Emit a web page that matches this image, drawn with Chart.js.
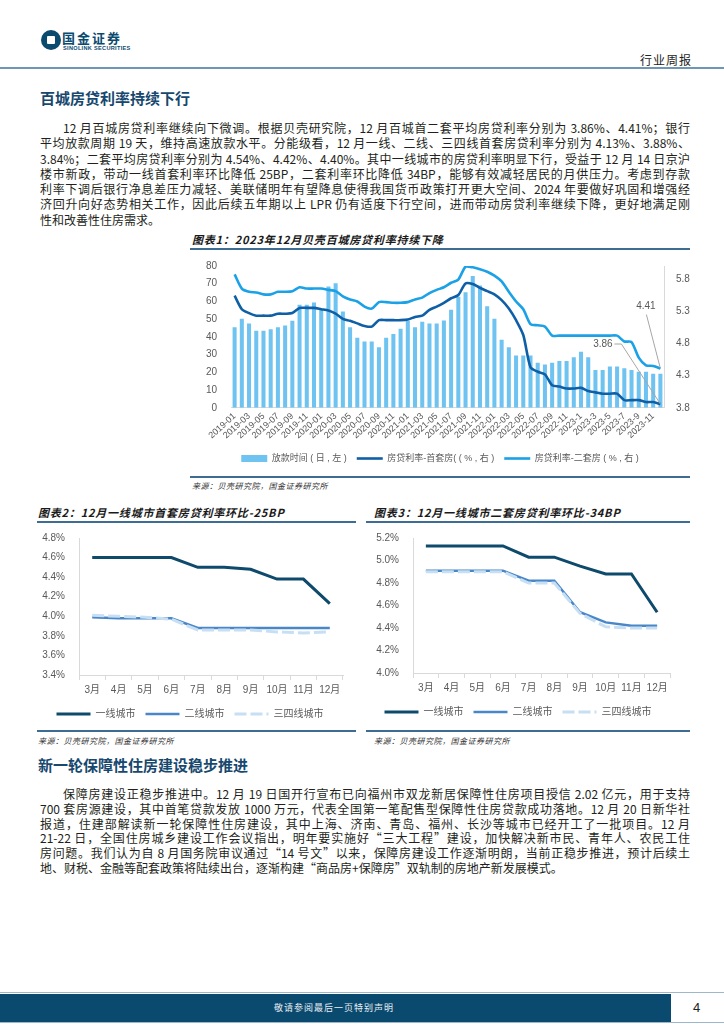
<!DOCTYPE html>
<html lang="zh-CN">
<head>
<meta charset="utf-8">
<title>行业周报</title>
<script src="https://cdn.jsdelivr.net/npm/chart.js@4.4.1/dist/chart.umd.min.js"></script>
<style>
body { margin: 0; background: #fff; }
#page { position: relative; width: 724px; height: 1024px; overflow: hidden; font-family: "Noto Sans CJK SC", sans-serif; color: #231f20; }
.abs { position: absolute; }
.rule { position: absolute; height: 2px; background: #3d6d92; }
.sec { position: absolute; font-size: 15px; font-weight: bold; color: #17486e; line-height: 20px; }
.para { position: absolute; left: 40px; width: 650px; font-size: 12px; }
.para div { text-align: justify; text-align-last: justify; white-space: nowrap; }
.para div.last { text-align-last: left; }
.ctitle { position: absolute; font-size: 11px; font-weight: bold; font-style: italic; letter-spacing: 0.8px; line-height: 14px; color: #1a1a1a; }
.src { position: absolute; font-size: 8px; font-style: italic; line-height: 12px; color: #333; letter-spacing: 0.5px; }
canvas { position: absolute; }
</style>
</head>
<body>
<div id="page">
  <!-- header -->
  <div class="abs" style="left:41px;top:30px;width:20px;height:20px;border-radius:50%;background:#0b4a6f"></div>
  <div class="abs" style="left:47px;top:36px;width:8px;height:8px;background:#fff;border-radius:1px"></div>
  <div class="abs" style="left:62px;top:30px;font-size:13px;font-weight:bold;color:#0b4a6f;letter-spacing:2px;line-height:15px">国金证券</div>
  <div class="abs" style="left:63px;top:45px;font-family:'Liberation Sans';font-size:5.6px;font-weight:bold;color:#0b4a6f;line-height:6px;letter-spacing:0.3px">SINOLINK SECURITIES</div>
  <div class="abs" style="left:640px;top:53px;font-size:12px;letter-spacing:1px;line-height:14px;color:#222">行业周报</div>
  <div class="abs" style="left:0;top:67px;width:724px;height:2px;background:#6f96b6"></div>

  <div class="sec" style="left:40px;top:88px">百城房贷利率持续下行</div>
  <div class="para" style="top:120px;line-height:15.3px">
    <div style="padding-left:23px">12 月百城房贷利率继续向下微调。根据贝壳研究院，12 月百城首二套平均房贷利率分别为 3.86%、4.41%；银行</div>
    <div>平均放款周期 19 天，维持高速放款水平。分能级看，12 月一线、二线、三四线首套房贷利率分别为 4.13%、3.88%、</div>
    <div>3.84%；二套平均房贷利率分别为 4.54%、4.42%、4.40%。其中一线城市的房贷利率明显下行，受益于 12 月 14 日京沪</div>
    <div>楼市新政，带动一线首套利率环比降低 25BP，二套利率环比降低 34BP，能够有效减轻居民的月供压力。考虑到存款</div>
    <div>利率下调后银行净息差压力减轻、美联储明年有望降息使得我国货币政策打开更大空间、2024 年要做好巩固和增强经</div>
    <div>济回升向好态势相关工作，因此后续五年期以上 LPR 仍有适度下行空间，进而带动房贷利率继续下降，更好地满足刚</div>
    <div class="last">性和改善性住房需求。</div>
  </div>

  <!-- chart 1 -->
  <div class="ctitle" style="left:192px;top:232px">图表1：2023年12月贝壳百城房贷利率持续下降</div>
  <div class="rule" style="left:190px;top:248px;width:500px"></div>
  <canvas id="chart1" width="500" height="219" style="left:190px;top:254px"></canvas>
  <div class="rule" style="left:190px;top:476px;width:500px;height:1.5px"></div>
  <div class="src" style="left:192px;top:480px">来源：贝壳研究院，国金证券研究所</div>

  <!-- chart 2 / 3 -->
  <div class="ctitle" style="left:38px;top:505px">图表2：12月一线城市首套房贷利率环比-25BP</div>
  <div class="rule" style="left:37px;top:521px;width:319px"></div>
  <canvas id="chart2" width="318" height="203" style="left:37px;top:526px"></canvas>
  <div class="rule" style="left:37px;top:730px;width:319px;height:1.5px"></div>
  <div class="src" style="left:38px;top:735px">来源：贝壳研究院，国金证券研究所</div>

  <div class="ctitle" style="left:374px;top:505px">图表3：12月一线城市二套房贷利率环比-34BP</div>
  <div class="rule" style="left:366px;top:521px;width:324px"></div>
  <canvas id="chart3" width="324" height="201" style="left:366px;top:526px"></canvas>
  <div class="rule" style="left:366px;top:730px;width:324px;height:1.5px"></div>
  <div class="src" style="left:374px;top:735px">来源：贝壳研究院，国金证券研究所</div>

  <div class="sec" style="left:38px;top:755px">新一轮保障性住房建设稳步推进</div>
  <div class="para" style="top:787px;line-height:14.8px">
    <div style="padding-left:23px">保障房建设正稳步推进中。12 月 19 日国开行宣布已向福州市双龙新居保障性住房项目授信 2.02 亿元，用于支持</div>
    <div>700 套房源建设，其中首笔贷款发放 1000 万元，代表全国第一笔配售型保障性住房贷款成功落地。12 月 20 日新华社</div>
    <div>报道，住建部解读新一轮保障性住房建设，其中上海、济南、青岛、福州、长沙等城市已经开工了一批项目。12 月</div>
    <div>21-22 日，全国住房城乡建设工作会议指出，明年要实施好“三大工程”建设，加快解决新市民、青年人、农民工住</div>
    <div>房问题。我们认为自 8 月国务院审议通过“14 号文”以来，保障房建设工作逐渐明朗，当前正稳步推进，预计后续土</div>
    <div class="last">地、财税、金融等配套政策将陆续出台，逐渐构建“商品房+保障房”双轨制的房地产新发展模式。</div>
  </div>

  <!-- footer -->
  <div class="abs" style="left:0;top:992px;width:724px;height:1px;background:#9db7cb"></div>
  <div class="abs" style="left:0;top:994px;width:671px;height:28px;background:#0b4a6f"></div>
  <div class="abs" style="left:0;top:1022px;width:724px;height:1px;background:#9db7cb"></div>
  <div class="abs" style="left:234px;top:1001px;width:200px;text-align:center;font-size:9px;letter-spacing:1px;color:#e6edf2;line-height:14px">敬请参阅最后一页特别声明</div>
  <div class="abs" style="left:693px;top:1000px;font-family:'Liberation Sans';font-size:13px;color:#222;line-height:16px">4</div>
</div>

<script>
Chart.defaults.font.family = '"Liberation Sans", "Noto Sans CJK SC", sans-serif';
Chart.defaults.color = '#595959';

// chart 1: 2019-01 .. 2023-12
var years = [2019, 2020, 2021, 2022, 2023];
var monthLabels = [];
for (var yi = 0; yi < years.length; yi++) {
    for (var m = 1; m <= 12; m++) {
        var mm = years[yi] === 2023 ? String(m) : (m < 10 ? '0' + m : String(m));
        monthLabels.push(years[yi] + '-' + mm);
    }
}

var loanDays = [
    45.5, 50.3, 47.6, 43.5, 43.5, 44.4, 45.5, 46.5, 49.1, 58.2, 58.2, 59.4,
    55.3, 68.4, 70.3, 54.4, 45.5, 39.5, 37.4, 37.4, 34.2, 39.5, 41.6, 44.6,
    49.0, 45.5, 48.6, 47.6, 47.6, 49.3, 55.4, 62.6, 65.2, 74.3, 69.0, 57.3,
    50.3, 38.4, 34.2, 29.5, 29.5, 29.5, 25.5, 24.4, 25.5, 26.5, 26.5, 28.5,
    31.6, 28.5, 21.4, 21.4, 23.3, 23.3, 22.3, 21.4, 20.4, 20.4, 19.3, 19.3
];
var firstRate = [
    5.54, 5.33, 5.27, 5.23, 5.23, 5.23, 5.26, 5.26, 5.27, 5.35, 5.35, 5.35,
    5.33, 5.31, 5.26, 5.18, 5.15, 5.11, 5.07, 5.06, 5.16, 5.16, 5.16, 5.16,
    5.17, 5.21, 5.23, 5.32, 5.37, 5.43, 5.50, 5.55, 5.73, 5.72, 5.66, 5.61,
    5.56, 5.47, 5.34, 5.16, 4.93, 4.43, 4.36, 4.32, 4.15, 4.13, 4.10, 4.10,
    4.11, 4.06, 4.04, 4.02, 4.02, 4.02, 3.92, 3.92, 3.92, 3.89, 3.89, 3.86
];
var secondRate = [
    5.87, 5.65, 5.60, 5.59, 5.56, 5.56, 5.60, 5.60, 5.61, 5.67, 5.65, 5.65,
    5.65, 5.63, 5.61, 5.53, 5.48, 5.45, 5.37, 5.34, 5.44, 5.44, 5.43, 5.43,
    5.44, 5.48, 5.51, 5.58, 5.63, 5.67, 5.74, 5.79, 5.99, 5.98, 5.95, 5.91,
    5.85, 5.76, 5.60, 5.45, 5.33, 5.10, 5.08, 5.06, 4.92, 4.92, 4.92, 4.92,
    4.92, 4.92, 4.92, 4.92, 4.92, 4.92, 4.83, 4.82, 4.58, 4.46, 4.45, 4.41
];
var leftTicks = [0, 10, 20, 30, 40, 50, 60, 70, 80];
var rightTicks = [3.8, 4.3, 4.8, 5.3, 5.8];

// chart 2 / 3
var months = ['3月', '4月', '5月', '6月', '7月', '8月', '9月', '10月', '11月', '12月'];
var tier1First = [4.60, 4.60, 4.60, 4.60, 4.50, 4.50, 4.48, 4.38, 4.38, 4.13];
var tier2First = [3.99, 3.98, 3.98, 3.98, 3.88, 3.88, 3.88, 3.88, 3.88, 3.88];
var tier34First = [4.01, 4.00, 3.99, 3.97, 3.86, 3.86, 3.86, 3.84, 3.83, 3.84];
var tier1Second = [5.13, 5.13, 5.13, 5.13, 5.03, 5.03, 4.95, 4.88, 4.88, 4.54];
var tier2Second = [4.91, 4.91, 4.91, 4.91, 4.82, 4.82, 4.54, 4.45, 4.42, 4.42];
var tier34Second = [4.90, 4.90, 4.90, 4.90, 4.80, 4.80, 4.53, 4.41, 4.40, 4.40];
var firstTicks = [3.4, 3.6, 3.8, 4.0, 4.2, 4.4, 4.6, 4.8];
var secondTicks = [4.0, 4.2, 4.4, 4.6, 4.8, 5.0, 5.2];

function legendItems(chart) {
    var items = Chart.defaults.plugins.legend.labels.generateLabels(chart);
    items.forEach(function (item) {
        var ds = chart.data.datasets[item.datasetIndex];
        if (ds.type === 'bar') {
            item.pointStyle = 'rect';
            item.lineWidth = 0;
            item.fillStyle = ds.backgroundColor;
        } else {
            item.pointStyle = 'line';
            item.lineWidth = ds.borderWidth;
            item.strokeStyle = ds.borderColor;
            item.lineDash = ds.borderDash || [];
        }
    });
    return items.sort(function (a, b) { return a.datasetIndex - b.datasetIndex; });
}

function setTicks(list) {
    return function (scale) {
        scale.ticks = list.map(function (v) { return { value: v }; });
    };
}

// small labels on the last points with leader lines
var lastValueLabels = {
    id: 'lastValueLabels',
    afterDatasetsDraw: function (chart) {
        var ctx = chart.ctx;
        var n = firstRate.length - 1;
        var p1 = chart.getDatasetMeta(1).data[n];
        var p2 = chart.getDatasetMeta(2).data[n];
        ctx.save();
        ctx.strokeStyle = '#a6a6a6';
        ctx.lineWidth = 1;
        ctx.fillStyle = '#595959';
        ctx.font = '10px "Liberation Sans"';
        ctx.textAlign = 'center';
        ctx.textBaseline = 'middle';

        ctx.beginPath();
        ctx.moveTo(p2.x - 14, p2.y - 54);
        ctx.lineTo(p2.x, p2.y);
        ctx.stroke();
        ctx.fillText(secondRate[n].toFixed(2), p2.x - 14.5, p2.y - 62);

        ctx.beginPath();
        ctx.moveTo(p1.x - 46, p1.y - 60);
        ctx.lineTo(p1.x - 39, p1.y - 60);
        ctx.lineTo(p1.x, p1.y);
        ctx.stroke();
        ctx.fillText(firstRate[n].toFixed(2), p1.x - 57.5, p1.y - 60);
        ctx.restore();
    }
};

new Chart(document.getElementById('chart1'), {
    type: 'bar',
    data: {
        labels: monthLabels,
        datasets: [{
            type: 'bar',
            label: '放款时间 ( 日 , 左 )',
            data: loanDays,
            yAxisID: 'y',
            backgroundColor: '#6fc3f1',
            barPercentage: 0.56,
            categoryPercentage: 1,
            order: 3
        }, {
            type: 'line',
            label: '房贷利率-首套房( ( % , 右 )',
            data: firstRate,
            yAxisID: 'y1',
            borderColor: '#0f5fa6',
            borderWidth: 2.6,
            pointRadius: 0,
            tension: 0.25,
            order: 1
        }, {
            type: 'line',
            label: '房贷利率-二套房 ( % , 右 )',
            data: secondRate,
            yAxisID: 'y1',
            borderColor: '#1ba1e6',
            borderWidth: 2.6,
            pointRadius: 0,
            tension: 0.25,
            order: 2
        }]
    },
    options: {
        responsive: false,
        animation: false,
        layout: { padding: { top: 11 } },
        plugins: {
            legend: {
                position: 'bottom',
                labels: {
                    usePointStyle: true,
                    pointStyleWidth: 26,
                    boxHeight: 7,
                    padding: 10,
                    font: { size: 9 },
                    color: '#595959',
                    generateLabels: legendItems
                }
            },
            tooltip: { enabled: false }
        },
        scales: {
            x: {
                grid: { display: false, drawTicks: false },
                border: { color: '#d9d9d9' },
                ticks: {
                    autoSkip: false,
                    minRotation: 42,
                    maxRotation: 42,
                    padding: 3,
                    font: { size: 9 },
                    color: '#595959',
                    callback: function (v, i) { return i % 2 === 0 ? monthLabels[i] : ''; }
                }
            },
            y: {
                position: 'left',
                min: 0,
                max: 80,
                grid: { display: false },
                border: { display: false },
                ticks: { font: { size: 10 }, color: '#595959', padding: 6 },
                afterBuildTicks: setTicks(leftTicks),
                afterFit: function (s) { s.width = 41; }
            },
            y1: {
                position: 'right',
                min: 3.8,
                max: 6.0,
                grid: { display: false },
                border: { color: '#d9d9d9' },
                ticks: {
                    font: { size: 10 },
                    color: '#595959',
                    padding: 4,
                    callback: function (v) { return v.toFixed(1); }
                },
                afterBuildTicks: setTicks(rightTicks),
                afterFit: function (s) { s.width = 26; }
            }
        }
    },
    plugins: [lastValueLabels]
});

function tierChart(canvasId, s1, s2, s3, tickList, yWidth, pad) {
    return new Chart(document.getElementById(canvasId), {
        type: 'line',
        data: {
            labels: months,
            datasets: [
                { label: '一线城市', data: s1, borderColor: '#0e4a6c', backgroundColor: '#0e4a6c', borderWidth: 3, order: 1 },
                { label: '二线城市', data: s2, borderColor: '#4a87c8', backgroundColor: '#4a87c8', borderWidth: 2.5, order: 2 },
                { label: '三四线城市', data: s3, borderColor: '#c6dff4', backgroundColor: '#c6dff4', borderWidth: 3, borderDash: [12, 4], order: 0 }
            ]
        },
        options: {
            responsive: false,
            animation: false,
            elements: { point: { radius: 0 }, line: { tension: 0 } },
            layout: { padding: pad },
            plugins: {
                legend: {
                    position: 'bottom',
                    labels: {
                        usePointStyle: true,
                        pointStyleWidth: 34,
                        padding: 10,
                        font: { size: 10 },
                        color: '#595959',
                        generateLabels: legendItems
                    }
                },
                tooltip: { enabled: false }
            },
            scales: {
                x: {
                    offset: true,
                    grid: { display: true, drawOnChartArea: false, drawTicks: true, tickLength: 5, offset: true, color: '#d9d9d9' },
                    border: { color: '#d9d9d9' },
                    ticks: { autoSkip: false, minRotation: 0, maxRotation: 0, font: { size: 10 }, color: '#595959', padding: 4 },
                    afterFit: function (s) { s.height = 24; }
                },
                y: {
                    min: tickList[0],
                    max: tickList[tickList.length - 1],
                    grid: { display: false },
                    border: { color: '#d9d9d9' },
                    ticks: {
                        font: { size: 10 },
                        color: '#595959',
                        padding: 6,
                        callback: function (v) { return v.toFixed(1) + '%'; }
                    },
                    afterBuildTicks: setTicks(tickList),
                    afterFit: function (s) { s.width = yWidth; }
                }
            }
        }
    });
}

tierChart('chart2', tier1First, tier2First, tier34First, firstTicks, 42, { top: 9, right: 12 });
tierChart('chart3', tier1Second, tier2Second, tier34Second, secondTicks, 47, { top: 12, right: 20 });
</script>
</body>
</html>
